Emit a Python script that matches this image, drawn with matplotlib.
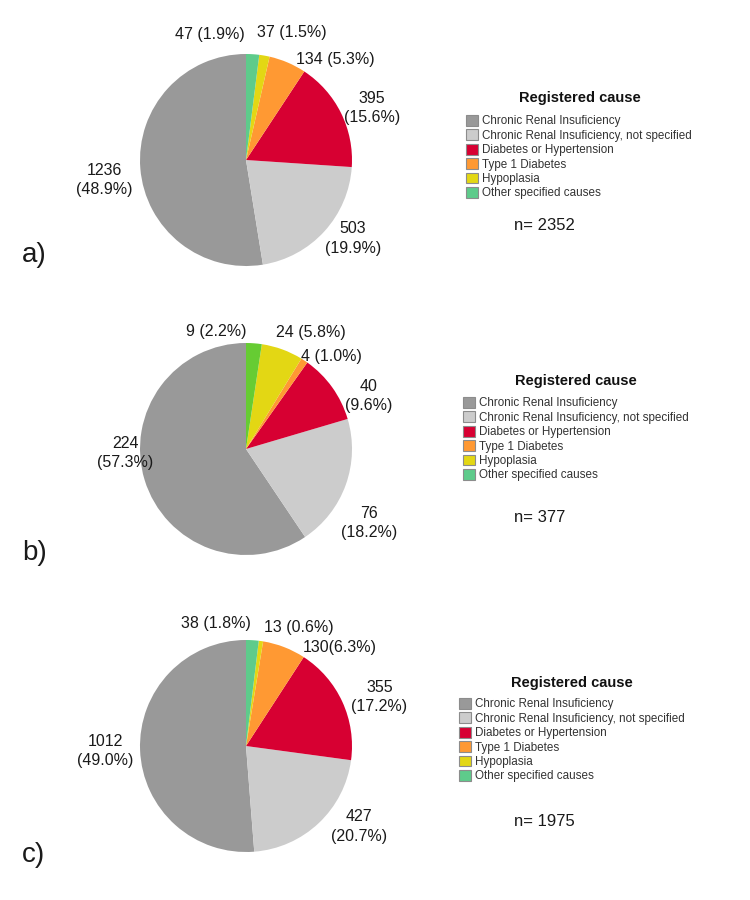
import matplotlib
matplotlib.use('Agg')
from matplotlib import pyplot as plt
from matplotlib.patches import Patch

plt.rcParams['font.family'] = ['Liberation Sans', 'DejaVu Sans']

# legend order = counter-clockwise order of the slices starting at 12 o'clock
causes = ['Chronic Renal Insuficiency',
          'Chronic Renal Insuficiency, not specified',
          'Diabetes or Hypertension',
          'Type 1 Diabetes',
          'Hypoplasia',
          'Other specified causes']

counts_a = [1236, 503, 395, 134, 37, 47]
pcts_a = ['48.9', '19.9', '15.6', '5.3', '1.5', '1.9']
counts_b = [224, 76, 40, 4, 24, 9]
pcts_b = ['57.3', '18.2', '9.6', '1.0', '5.8', '2.2']
counts_c = [1012, 427, 355, 130, 13, 38]
pcts_c = ['49.0', '20.7', '17.2', '6.3', '0.6', '1.8']
totals = [2352, 377, 1975]
panel_names = ['a)', 'b)', 'c)']

legend_colors = ['#999999', '#cccccc', '#d70032', '#ff9933', '#e3d714', '#5ecb8b']
pie_colors = [legend_colors,
              ['#999999', '#cccccc', '#d70032', '#ff9933', '#e3d714', '#66cc33'],
              legend_colors]

# separator between count and percentage in each slice label
seps = [['\n', '\n', '\n', ' ', ' ', ' '],
        ['\n', '\n', '\n', ' ', ' ', ' '],
        ['\n', '\n', '\n', '', ' ', ' ']]

# label offsets from pie centre, in pie radii
label_pos = [
    [(-1.34, -0.19), (1.01, -0.74), (1.19, 0.49), (0.84, 0.95), (0.43, 1.20), (-0.34, 1.18)],
    [(-1.14, -0.04), (1.16, -0.70), (1.16, 0.50), (0.81, 0.87), (0.61, 1.10), (-0.28, 1.11)],
    [(-1.33, -0.05), (1.07, -0.76), (1.26, 0.46), (0.88, 0.93), (0.50, 1.12), (-0.28, 1.16)],
]

W, H = 750, 900
R = 106          # pie radius in px
LIM = 1.6
centers = [(246, 160), (246, 449), (246, 746)]
legend_xy = [(466, 115), (463, 397), (459, 698)]
title_xy = [(580, 98), (576, 381), (572, 683)]
n_y = [225, 517, 822]
tag_y = [255, 553, 855]

fig = plt.figure(figsize=(7.5, 9), dpi=100)

all_counts = [counts_a, counts_b, counts_c]
all_pcts = [pcts_a, pcts_b, pcts_c]

for i in range(3):
    cx, cy = centers[i]
    half = LIM * R
    ax = fig.add_axes([(cx - half) / W, 1 - (cy + half) / H, 2 * half / W, 2 * half / H])
    ax.pie(all_counts[i], colors=pie_colors[i], startangle=90, counterclock=True,
           wedgeprops=dict(linewidth=0), radius=1)
    ax.set_xlim(-LIM, LIM)
    ax.set_ylim(-LIM, LIM)
    ax.set_aspect('equal')
    ax.axis('off')

    for j, (n, p) in enumerate(zip(all_counts[i], all_pcts[i])):
        dx, dy = label_pos[i][j]
        ax.text(dx, dy, '{}{}({}%)'.format(n, seps[i][j], p), ha='center', va='center',
                fontsize=11.5, linespacing=1.35, color='#1a1a1a')

    handles = [Patch(facecolor=c, edgecolor='#8c8c8c', linewidth=0.8) for c in legend_colors]
    lx, ly = legend_xy[i]
    leg = ax.legend(handles, causes, loc='upper left',
                    bbox_to_anchor=(lx / W, 1 - ly / H), bbox_transform=fig.transFigure,
                    frameon=False, borderpad=0, fontsize=8.4, handlelength=1.05,
                    handleheight=1.05, handletextpad=0.35, labelspacing=0.17,
                    borderaxespad=0)
    for t in leg.get_texts():
        t.set_color('#333333')

    tx, ty = title_xy[i]
    fig.text(tx / W, 1 - ty / H, 'Registered cause', fontsize=10.5, fontweight='bold',
             ha='center', va='center', color='#111111')
    fig.text(514 / W, 1 - n_y[i] / H, 'n= {}'.format(totals[i]), fontsize=12,
             ha='left', va='center', color='#1a1a1a')
    fig.text(22 / W, 1 - tag_y[i] / H, panel_names[i], fontsize=20,
             ha='left', va='center', color='#1a1a1a')

fig.savefig('out.png', dpi=100)
